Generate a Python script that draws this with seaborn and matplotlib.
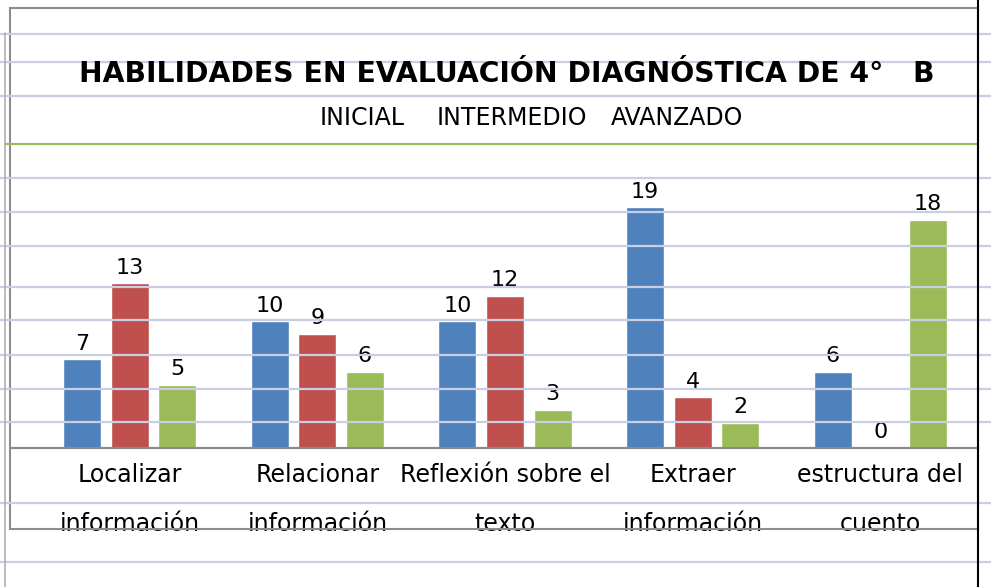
import pandas as pd
import seaborn as sns
import matplotlib.pyplot as plt
from matplotlib.lines import Line2D
from matplotlib.patches import Rectangle

# datos de la evaluación diagnóstica 4° B
categorias = ["Localizar\ninformación", "Relacionar\ninformación",
              "Reflexión sobre el\ntexto", "Extraer\ninformación",
              "estructura del\ncuento"]
niveles = ["INICIAL", "INTERMEDIO", "AVANZADO"]
inicial = [7, 10, 10, 19, 6]
intermedio = [13, 9, 12, 4, 0]
avanzado = [5, 6, 3, 2, 18]
colores = ["#4f81bd", "#c0504d", "#9bbb59"]

df = pd.DataFrame({
    "Habilidad": categorias * 3,
    "Nivel": [n for n in niveles for _ in categorias],
    "Alumnos": inicial + intermedio + avanzado,
})

sns.set_style("white")
plt.rcParams['font.family'] = ['DejaVu Sans']
plt.rcParams['text.color'] = 'black'
plt.rcParams['xtick.color'] = 'black'

W, H = 991, 587
fig = plt.figure(figsize=(W / 100, H / 100), dpi=100)
ax = fig.add_axes([36 / W, 1 - 448 / H, 938 / W, 304 / H])

sns.barplot(data=df, x="Habilidad", y="Alumnos", hue="Nivel", palette=colores,
            width=0.76, gap=0.2, saturation=1, errorbar=None, legend=False, ax=ax)

for c in ax.containers:
    ax.bar_label(c, padding=4, fontsize=16, color="black")

ax.set_ylim(0, 24)
ax.set_xlim(-0.5, 4.5)
ax.set_yticks([])
ax.set_xlabel("")
ax.set_ylabel("")
ax.tick_params(axis="x", length=0, pad=11, labelsize=17, labelcolor="black")
for lbl in ax.get_xticklabels():
    lbl.set_linespacing(2.3)
for s in ax.spines.values():
    s.set_visible(False)

# titulo y leyenda (sin marcadores)
fig.text(507 / W, 1 - 74 / H, "HABILIDADES EN EVALUACIÓN DIAGNÓSTICA DE 4°   B",
         ha="center", va="center", fontsize=20.3, fontweight="bold")
for x, nombre in zip([320, 437, 611], niveles):
    fig.text(x / W, 1 - 118 / H, nombre, ha="left", va="center", fontsize=17)

# renglones de fondo
def hline(y, x0=0, x1=W, color="#c9cfe3", lw=1.6):
    fig.add_artist(Line2D([x0 / W, x1 / W], [1 - y / H, 1 - y / H],
                          transform=fig.transFigure, color=color, lw=lw))

for y in [34, 62, 96, 178, 212, 246, 287, 320, 355, 389, 422, 503, 562]:
    hline(y)
hline(144, 5, 978, color="#9bbb59")
hline(448, 10, 978, color="#8a8a8a")

fig.add_artist(Rectangle((10 / W, 1 - 529 / H), 968 / W, 521 / H,
                         transform=fig.transFigure, fill=False,
                         edgecolor="#8c8c8c", lw=1.5))
fig.add_artist(Line2D([978 / W, 978 / W], [0, 1], transform=fig.transFigure,
                      color="black", lw=1.5))
fig.add_artist(Line2D([5 / W, 5 / W], [0, 1 - 33 / H], transform=fig.transFigure,
                      color="#b0b0b0", lw=1.2))

fig.savefig("out.png", dpi=100)
